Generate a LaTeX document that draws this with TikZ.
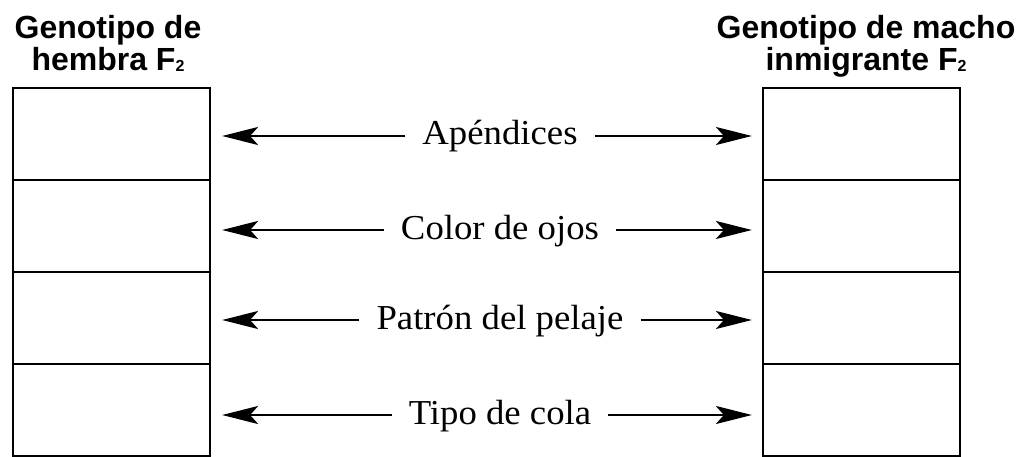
\documentclass[tikz,border=0pt]{standalone}
\usepackage{fontspec}
\usetikzlibrary{arrows.meta}
\newfontfamily\headfont{Liberation Sans}
\newfontfamily\bodyfont[FakeStretch=1.05]{Liberation Serif}
\newcommand{\subtwo}{\raisebox{-1pt}{\fontsize{16}{16}\selectfont 2}}
\tikzset{
  cell/.style={draw, line width=2.2pt, minimum width=197pt, minimum height=92pt, inner sep=0pt, fill=none},
  head/.style={font=\headfont\bfseries\fontsize{32}{32}\selectfont, align=center, anchor=north, inner sep=0pt},
  lab/.style={font=\bodyfont\fontsize{35}{36}\selectfont, text height=25pt, text depth=7pt, inner xsep=17pt, inner ysep=0pt},
  arr/.style={line width=2.2pt, -{Stealth[length=36pt, width=18pt, inset=8pt]}}
}
\begin{document}
\begin{tikzpicture}[x=1pt, y=-1pt]
\useasboundingbox (0,0) rectangle (1025,457);
% left cells
\node[cell] (L1) at (111.5,134) {};
\node[cell] (L2) at (111.5,226) {};
\node[cell] (L3) at (111.5,318) {};
\node[cell] (L4) at (111.5,410) {};
% right cells
\node[cell] (R1) at (861.5,134) {};
\node[cell] (R2) at (861.5,226) {};
\node[cell] (R3) at (861.5,318) {};
\node[cell] (R4) at (861.5,410) {};
% headers
\node[head] (HL) at (108,15) {Genotipo de\\hembra F\subtwo};
\node[head] (HR) at (866,15) {Genotipo de macho\\inmigrante F\subtwo};
% labels
\node[lab] (T1) at (500,136) {Apéndices};
\node[lab] (T2) at (500,230) {Color de ojos};
\node[lab] (T3) at (500,320) {Patrón del pelaje};
\node[lab] (T4) at (500,415) {Tipo de cola};
% arrows
\foreach \i in {1,2,3,4}{
  \draw[arr, shorten >=11pt] (T\i.west) -- (T\i.west -| L\i.east);
  \draw[arr, shorten >=10pt] (T\i.east) -- (T\i.east -| R\i.west);
}
\end{tikzpicture}
\end{document}
